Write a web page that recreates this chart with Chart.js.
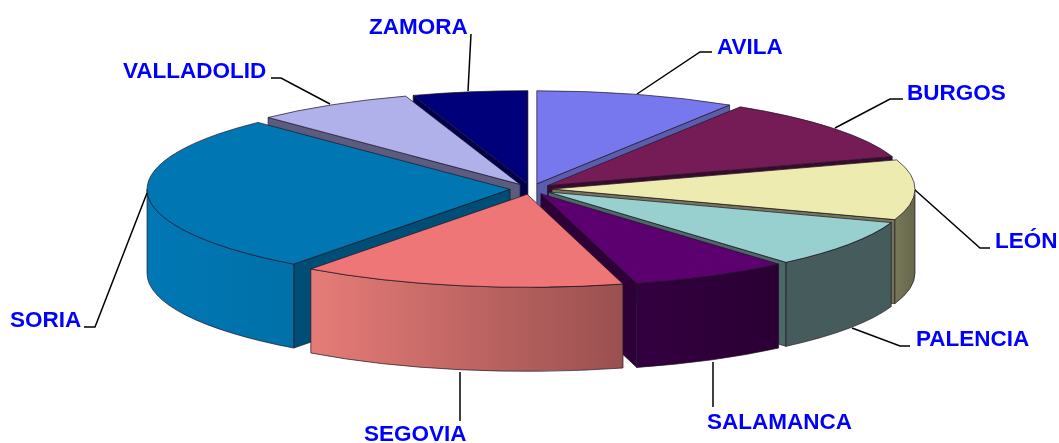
<!DOCTYPE html>
<html>
<head>
<meta charset="utf-8">
<title>Provincias</title>
<script src="https://cdn.jsdelivr.net/npm/chart.js@4/dist/chart.umd.js"></script>
<style>
    html, body { margin: 0; padding: 0; background: #fff; }
    #chart-box { width: 1059px; height: 443px; }
</style>
</head>
<body>
<div id="chart-box"><canvas id="pie-chart"></canvas></div>
<script>
// Share of each province
const categories = ['AVILA', 'BURGOS', 'LEÓN', 'PALENCIA', 'SALAMANCA', 'SEGOVIA', 'SORIA', 'VALLADOLID', 'ZAMORA'];
const shares = [8.9, 11.0, 10.4, 8.3, 7.1, 14.4, 27.6, 7.1, 5.1];

// Colours: top of slice, cut faces, outer wall left and right
const topColors = ['#7777ee', '#751c56', '#eeebb0', '#98d0d0', '#5c0070', '#ee7676', '#0077b3', '#b0b0ea', '#00007a'];
const faceColors = ['#5c5cac', '#3a0b2c', '#77765a', '#4c6868', '#2d0038', '#7a3c3c', '#004d75', '#5c5c80', '#00004d'];
const wallLeft = ['#3c3c78', '#3a0e2b', '#77775a', '#465c5c', '#33003f', '#e67c78', '#0078b4', '#58587a', '#00003d'];
const wallRight = ['#3c3c78', '#3a0e2b', '#66664a', '#465c5c', '#2a0034', '#99504f', '#0070a8', '#58587a', '#00003d'];

// Label text start + baseline, and the leader line going to the pie
const labelPos = [[717, 54], [907, 100], [995, 248], [916, 346], [707, 429], [364, 441], [10, 327], [123, 78], [369, 34]];
const leaders = [
    [[637, 94], [700, 52], [712, 52]],
    [[835, 128], [890, 99], [903, 99]],
    [[915, 190], [980, 248], [990, 248]],
    [[852, 328], [900, 346], [910, 346]],
    [[713, 362], [713, 407]],
    [[460, 372], [460, 421]],
    [[147, 193], [95, 327], [84, 327]],
    [[330, 104], [281, 78], [271, 78]],
    [[468, 91], [471, 34]]
];

// How the flat pie is laid over on the page
const centerX = 531;
const centerY = 189;
const radiusX = 363;
const radiusY = 93;
const depth = 84;
const explodeX = 21;
const explodeY = 5.4;
const edgeColor = 'rgba(30, 20, 35, 0.7)';

function sliceOrigin(arc) {
    const mid = (arc.startAngle + arc.endAngle) / 2;
    return { x: centerX + Math.cos(mid) * explodeX, y: centerY + Math.sin(mid) * explodeY };
}

function edgePoint(o, angle) {
    return { x: o.x + Math.cos(angle) * radiusX, y: o.y + Math.sin(angle) * radiusY };
}

// Radial cut face, only when it looks towards the viewer
function drawFace(ctx, o, angle, normal, color) {
    if (Math.sin(normal) <= 0) return;
    const p = edgePoint(o, angle);
    ctx.beginPath();
    ctx.moveTo(o.x, o.y);
    ctx.lineTo(p.x, p.y);
    ctx.lineTo(p.x, p.y + depth);
    ctx.lineTo(o.x, o.y + depth);
    ctx.closePath();
    ctx.fillStyle = color;
    ctx.fill();
    ctx.strokeStyle = edgeColor;
    ctx.lineWidth = 1;
    ctx.stroke();
}

// Curved outer wall, only the front half of the ellipse can be seen
function drawWall(ctx, o, arc, i) {
    const a0 = Math.max(arc.startAngle, 0);
    const a1 = Math.min(arc.endAngle, Math.PI);
    if (a1 <= a0) return;
    const left = edgePoint(o, a1).x;
    const right = edgePoint(o, a0).x;
    const grad = ctx.createLinearGradient(left, 0, right, 0);
    grad.addColorStop(0, wallLeft[i]);
    grad.addColorStop(1, wallRight[i]);
    ctx.beginPath();
    ctx.ellipse(o.x, o.y, radiusX, radiusY, 0, a0, a1);
    ctx.ellipse(o.x, o.y + depth, radiusX, radiusY, 0, a1, a0, true);
    ctx.closePath();
    ctx.fillStyle = grad;
    ctx.fill();
    ctx.strokeStyle = edgeColor;
    ctx.lineWidth = 1;
    ctx.stroke();
}

const pie3d = {
    id: 'pie3d',
    beforeDatasetDraw(chart, args) {
        const ctx = chart.ctx;
        const arcs = chart.getDatasetMeta(args.index).data;

        // back slices first so the front ones cover them
        const order = arcs.map((arc, i) => i).sort((a, b) => {
            const midA = (arcs[a].startAngle + arcs[a].endAngle) / 2;
            const midB = (arcs[b].startAngle + arcs[b].endAngle) / 2;
            return Math.sin(midA) - Math.sin(midB);
        });
        order.forEach(i => {
            const arc = arcs[i];
            const o = sliceOrigin(arc);
            drawFace(ctx, o, arc.startAngle, arc.startAngle - Math.PI / 2, faceColors[i]);
            drawFace(ctx, o, arc.endAngle, arc.endAngle + Math.PI / 2, faceColors[i]);
            drawWall(ctx, o, arc, i);
        });

        // the tops are the chart's own arcs, squashed into ellipses
        order.forEach(i => {
            const arc = arcs[i];
            const o = sliceOrigin(arc);
            ctx.save();
            ctx.translate(o.x, o.y);
            ctx.scale(radiusX / arc.outerRadius, radiusY / arc.outerRadius);
            ctx.translate(-arc.x, -arc.y);
            arc.draw(ctx);
            ctx.restore();

            const p = edgePoint(o, arc.startAngle);
            ctx.beginPath();
            ctx.moveTo(o.x, o.y);
            ctx.lineTo(p.x, p.y);
            ctx.ellipse(o.x, o.y, radiusX, radiusY, 0, arc.startAngle, arc.endAngle);
            ctx.closePath();
            ctx.strokeStyle = edgeColor;
            ctx.lineWidth = 1;
            ctx.stroke();
        });
        return false;
    },
    afterDraw(chart) {
        const ctx = chart.ctx;
        ctx.save();
        ctx.strokeStyle = '#000';
        ctx.lineWidth = 1.5;
        leaders.forEach(line => {
            ctx.beginPath();
            line.forEach((p, n) => {
                if (n === 0) ctx.moveTo(p[0], p[1]);
                else ctx.lineTo(p[0], p[1]);
            });
            ctx.stroke();
        });
        ctx.font = 'bold 22.5px "Liberation Sans", Arial, sans-serif';
        ctx.fillStyle = '#0000ff';
        ctx.textAlign = 'left';
        ctx.textBaseline = 'alphabetic';
        categories.forEach((name, i) => {
            ctx.fillText(name, labelPos[i][0], labelPos[i][1]);
        });
        ctx.restore();
    }
};

new Chart(document.getElementById('pie-chart').getContext('2d'), {
    type: 'pie',
    data: {
        labels: categories,
        datasets: [{
            data: shares,
            backgroundColor: topColors,
            borderWidth: 0
        }]
    },
    options: {
        responsive: true,
        maintainAspectRatio: false,
        animation: false,
        plugins: {
            legend: { display: false },
            tooltip: { enabled: false }
        }
    },
    plugins: [pie3d]
});
</script>
</body>
</html>
